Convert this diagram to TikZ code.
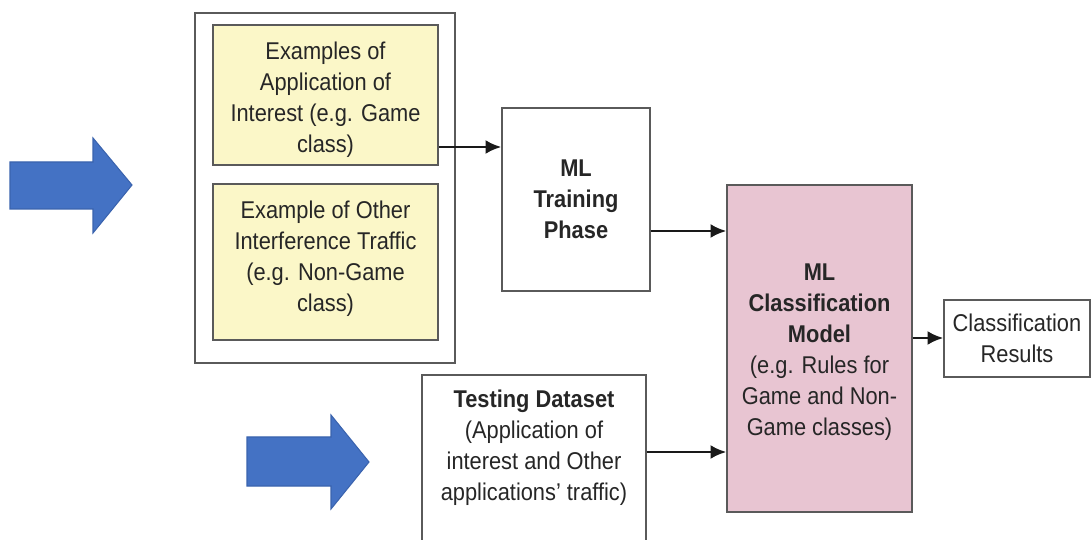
\documentclass[tikz,border=0pt]{standalone}
\usepackage{fontspec}
\setmainfont{Liberation Sans}[FakeStretch=0.9]
\usetikzlibrary{arrows.meta}
\definecolor{boxline}{HTML}{5A5A5A}
\definecolor{txt}{HTML}{262626}
\definecolor{sand}{HTML}{FBF7C8}
\definecolor{rose}{HTML}{E8C5D2}
\definecolor{flowblue}{HTML}{4472C4}
\definecolor{flowedge}{HTML}{3A63AE}
\tikzset{
  box/.style={draw=boxline, line width=0.8pt, inner sep=0pt, align=center,
    text=txt, font=\fontsize{13.8}{17.6}\selectfont},
  sandbox/.style={box, fill=sand},
  rosebox/.style={box, fill=rose},
  label/.style={inner sep=0pt, align=center, text=txt,
    font=\fontsize{13.8}{17.6}\selectfont},
  link/.style={line width=1.5pt, -{Latex[length=9pt,width=8pt]}, black!90},
  bigarrow/.style={fill=flowblue, draw=flowedge, line width=0.6pt, line join=miter}
}
\begin{document}
\begin{tikzpicture}[x=0.02cm,y=-0.02cm]
\clip (0,0) rectangle (1092,540);
\fill[white] (0,0) rectangle (1092,540);

% big blue input arrows
\path[bigarrow] (10,162) -- (93,162) -- (93,138) -- (132,185) -- (93,233)
  -- (93,209) -- (10,209) -- cycle;
\path[bigarrow] (247,437) -- (331,437) -- (331,415) -- (369,462) -- (331,509)
  -- (331,486) -- (247,486) -- cycle;

% training data group
\node[box, minimum width=5.2cm, minimum height=7.0cm] (group) at (325,188) {};
\node[sandbox, minimum width=4.5cm, minimum height=2.8cm] (interest) at (325.5,95) {};
\node[label] (interesttxt) at (325.5,100)
  {Examples of\\Application of\\Interest (e.g. Game\\class)};
\node[sandbox, minimum width=4.5cm, minimum height=3.12cm] (other) at (325.5,262) {};
\node[label] (othertxt) at (325.5,259)
  {Example of Other\\Interference Traffic\\(e.g. Non-Game\\class)};

% training phase
\node[box, minimum width=2.96cm, minimum height=3.66cm, font=\fontsize{13.8}{17.6}\selectfont\bfseries]
  (train) at (576,199.5) {ML\\Training\\Phase};

% testing dataset
\node[box, minimum width=4.48cm, minimum height=3.7cm] (test) at (534,467.5) {};
\node[label] (testtxt) at (534,448)
  {\textbf{Testing Dataset}\\(Application of\\interest and Other\\applications’ traffic)};

% classification model
\node[rosebox, minimum width=3.7cm, minimum height=6.54cm] (model) at (819.5,348.5) {};
\node[label] (modeltxt) at (819.5,352)
  {\textbf{ML}\\\textbf{Classification}\\\textbf{Model}\\(e.g. Rules for\\Game and Non-\\Game classes)};

% results
\node[box, minimum width=2.92cm, minimum height=1.54cm] (result) at (1017,338.5)
  {Classification\\Results};

% connectors
\coordinate (r1) at (0,147);
\coordinate (r2) at (0,231);
\coordinate (r3) at (0,452);
\coordinate (r4) at (0,338);
\draw[link] (interest.east |- r1) -- (train.west |- r1);
\draw[link] (train.east |- r2) -- (model.west |- r2);
\draw[link] (test.east |- r3) -- (model.west |- r3);
\draw[link] (model.east |- r4) -- (result.west |- r4);
\end{tikzpicture}
\end{document}
